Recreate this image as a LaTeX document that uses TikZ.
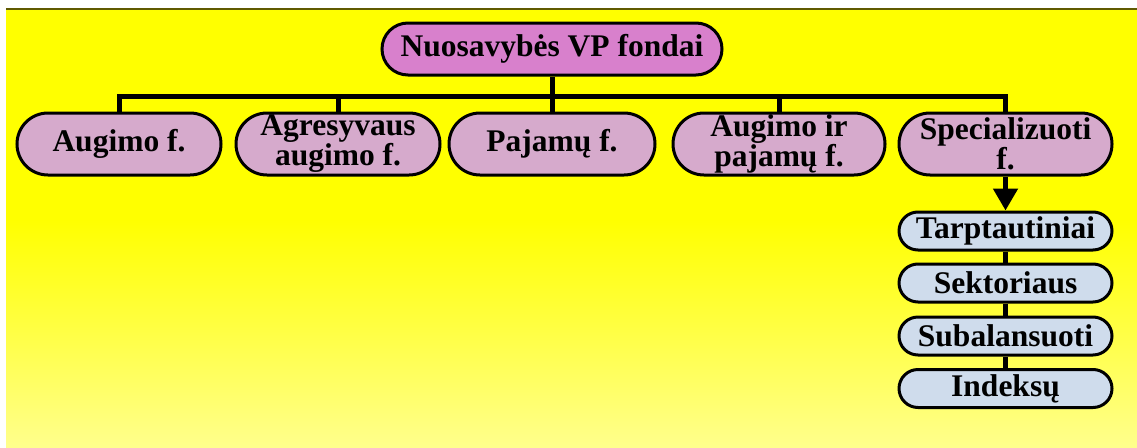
\documentclass[tikz,border=0pt]{standalone}
\usepackage{fontspec}
\setmainfont{Liberation Serif}
\usetikzlibrary{arrows.meta}
\definecolor{rootfill}{RGB}{216,128,204}
\definecolor{catfill}{RGB}{214,170,204}
\definecolor{subfill}{RGB}{207,220,236}
\definecolor{bgtop}{RGB}{255,255,0}
\definecolor{bgbot}{RGB}{255,255,140}
\definecolor{topline}{RGB}{96,90,0}
\pgfdeclarelayer{bglayer}
\pgfdeclarelayer{connlayer}
\pgfsetlayers{bglayer,connlayer,main}
\tikzset{
  pill/.style={draw=black, line width=3pt, rounded corners=#1, inner sep=0pt,
    align=center, font=\fontsize{31.5pt}{25pt}\selectfont\bfseries},
  rootbox/.style={pill=26pt, fill=rootfill, minimum width=340pt, minimum height=52pt},
  catbox/.style={pill=31pt, fill=catfill, minimum height=62pt},
  subbox/.style={pill=19pt, fill=subfill, minimum width=213pt, minimum height=38pt},
  conn/.style={line width=5pt, line join=miter},
}
\begin{document}
\begin{tikzpicture}[x=1pt,y=-1pt]
\useasboundingbox (0,0) rectangle (1137,447);
\begin{pgfonlayer}{bglayer}
\fill[white] (0,0) rectangle (1137,447);
\fill[bgtop] (6,9) rectangle (1137,447);
\shade[top color=bgtop, bottom color=bgbot] (6,220) rectangle (1137,447);
\draw[topline, line width=2pt] (6,8.5) -- (1137,8.5);
\end{pgfonlayer}

\node[rootbox] (root) at (552,49) {Nuosavybės VP fondai};

\node[catbox, minimum width=204pt] (aug) at (119,144) {Augimo f.};
\node[catbox, minimum width=204pt] (agr) at (338,144) {Agresyvaus\\augimo f.};
\node[catbox, minimum width=206pt] (paj) at (552,144) {Pajamų f.};
\node[catbox, minimum width=212pt] (aip) at (779,144) {Augimo ir\\pajamų f.};
\node[catbox, minimum width=213pt] (spec) at (1005.5,144) {Specializuoti\\f.};

\node[subbox] (tarp) at (1005.5,231) {Tarptautiniai};
\node[subbox] (sekt) at (1005.5,283) {Sektoriaus};
\node[subbox] (suba) at (1005.5,336) {Subalansuoti};
\node[subbox] (inde) at (1005.5,388.5) {Indeksų};

\coordinate (bus) at (552,96);

\begin{pgfonlayer}{connlayer}
\draw[conn] (aug.north) |- (bus) -| (spec.north);
\draw[conn] (agr.north) -- (agr.north |- bus);
\draw[conn] (aip.north) -- (aip.north |- bus);
\draw[conn] (root.south) -- (paj.north);
\draw[conn] (tarp.south) -- (sekt.north);
\draw[conn] (sekt.south) -- (suba.north);
\draw[conn] (suba.south) -- (inde.north);
\end{pgfonlayer}
\draw[conn, -{Triangle[width=24pt,length=22pt]}] (spec.south) -- (tarp.north);
\end{tikzpicture}
\end{document}
